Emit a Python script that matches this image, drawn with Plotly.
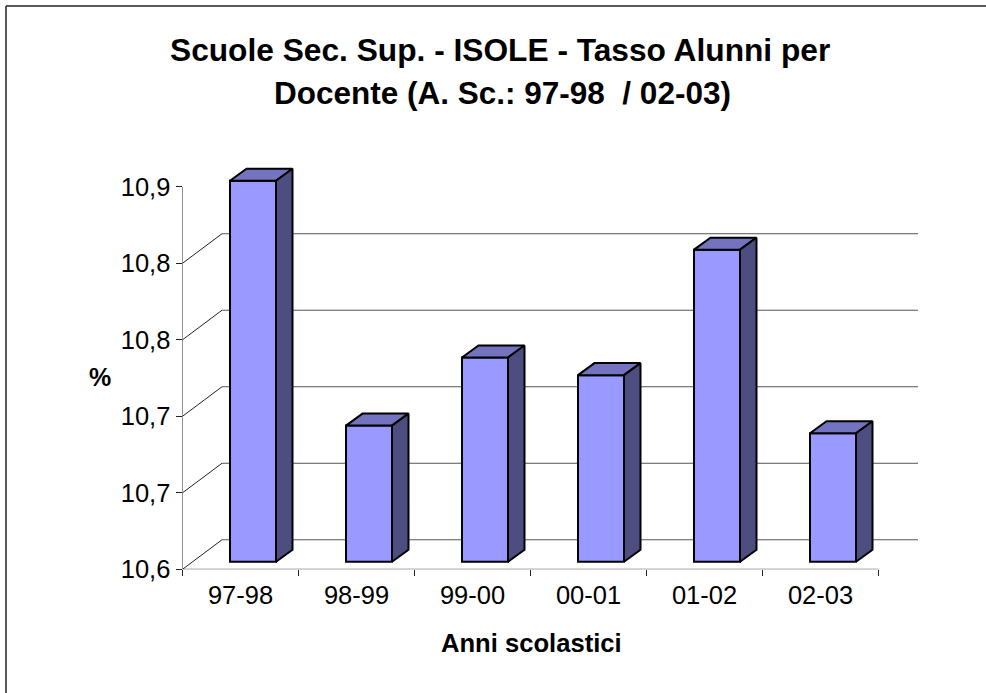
import plotly.graph_objects as go

# values
anni = ["97-98", "98-99", "99-00", "00-01", "01-02", "02-03"]
tasso = [10.849, 10.689, 10.7335, 10.722, 10.804, 10.684]
y_ticks = [10.60, 10.65, 10.70, 10.75, 10.80, 10.85]
y_labels = ["10,6", "10,7", "10,7", "10,8", "10,8", "10,9"]

W, H = 986, 693
# plot area in pixels (left edge = y axis, bottom edge = x axis)
left, right, top, bottom = 182.5, 918, 150, 568.5
cat_px = 116.0
val_px = 76.4 / 0.05

# 3d offsets, converted to axis units
wall_dx = 39.5 / cat_px
wall_dy = 29.5 / val_px
depth_dx = 16.5 / cat_px
depth_dy = 12.0 / val_px
base_dy = 7.5 / val_px
bar_w = 46.0 / cat_px
bar_shift = 12.5 / cat_px

xmax = (right - left) / cat_px
ymin = y_ticks[0]
ymax = ymin + (bottom - top) / val_px

fig = go.Figure()

# front faces
fig.add_trace(go.Bar(
    x=[i + 0.5 + bar_shift for i in range(len(anni))],
    y=[v - ymin for v in tasso],
    base=ymin + base_dy,
    width=bar_w,
    marker=dict(color="#9999FF", line=dict(color="black", width=2)),
    hoverinfo="skip",
))

# top and side faces
for i, v in enumerate(tasso):
    x0 = i + 0.5 + bar_shift - bar_w / 2
    x1 = x0 + bar_w
    y0 = ymin + base_dy
    yt = v + base_dy
    fig.add_trace(go.Scatter(
        x=[x0, x1, x1 + depth_dx, x0 + depth_dx, x0],
        y=[yt, yt, yt + depth_dy, yt + depth_dy, yt],
        mode="lines", fill="toself", fillcolor="#7373BF",
        line=dict(color="black", width=2), hoverinfo="skip",
    ))
    fig.add_trace(go.Scatter(
        x=[x1, x1 + depth_dx, x1 + depth_dx, x1, x1],
        y=[y0, y0 + depth_dy, yt + depth_dy, yt, y0],
        mode="lines", fill="toself", fillcolor="#4D4D80",
        line=dict(color="black", width=2), hoverinfo="skip",
    ))

# axis lines
fig.add_trace(go.Scatter(x=[0, 0], y=[ymin, y_ticks[-1]], mode="lines",
                         line=dict(color="#222222", width=1), hoverinfo="skip"))
fig.add_trace(go.Scatter(x=[0, len(anni)], y=[ymin, ymin], mode="lines",
                         line=dict(color="#222222", width=1), hoverinfo="skip"))

# back wall gridlines and the diagonals on the side wall
shapes = []
for t in y_ticks[:-1]:
    shapes.append(dict(type="line", layer="below", xref="x", yref="y",
                       x0=wall_dx, x1=xmax, y0=t + wall_dy, y1=t + wall_dy,
                       line=dict(color="#555555", width=1)))
    shapes.append(dict(type="line", layer="below", xref="x", yref="y",
                       x0=0, x1=wall_dx, y0=t, y1=t + wall_dy,
                       line=dict(color="#222222", width=1)))

# chart border: only the top and left sides show, they run off the picture
shapes.append(dict(type="line", xref="paper", yref="paper",
                   x0=6 / W, x1=1, y0=1 - 6 / H, y1=1 - 6 / H,
                   line=dict(color="#222222", width=1.5)))
shapes.append(dict(type="line", xref="paper", yref="paper",
                   x0=6 / W, x1=6 / W, y0=0, y1=1 - 6 / H,
                   line=dict(color="#222222", width=1.5)))

def text(s, px, py, size, angle=0):
    return dict(text=s, x=px / W, y=1 - py / H, xref="paper", yref="paper",
                showarrow=False, xanchor="center", yanchor="middle",
                textangle=angle, font=dict(size=size, color="black"))

fig.update_layout(
    width=W, height=708,
    margin=dict(l=0, r=0, t=0, b=0),
    autosize=False,
    showlegend=False,
    paper_bgcolor="white",
    plot_bgcolor="white",
    font=dict(family="Liberation Sans", color="black"),
    shapes=shapes,
    annotations=[
        text("<b>Scuole Sec. Sup. - ISOLE - Tasso Alunni per</b>", 500, 50, 31.7),
        text("<b>Docente (A. Sc.: 97-98 \u00a0/ 02-03)</b>", 502, 93, 31.5),
        text("<b>%</b>", 100, 376, 25),
        text("<b>Anni scolastici</b>", 531, 642, 25.6),
    ],
    xaxis=dict(
        domain=[left / W, right / W], range=[0, xmax],
        tickmode="array",
        tickvals=[i + 0.5 for i in range(len(anni))],
        ticktext=anni, ticks="", showgrid=False, zeroline=False,
        tickfont=dict(size=25.5),
        ticklabelstandoff=8,
        minor=dict(tickmode="array", tickvals=list(range(len(anni) + 1)),
                   ticks="outside", ticklen=6, tickcolor="#222222", showgrid=False),
    ),
    yaxis=dict(
        domain=[1 - bottom / H, 1 - top / H], range=[ymin, ymax],
        tickmode="array", tickvals=y_ticks, ticktext=y_labels,
        ticks="outside", ticklen=6, tickcolor="#222222",
        showgrid=False, zeroline=False,
        tickfont=dict(size=25.5),
    ),
)

# the browser's default body margin would push the figure off by 8 px
fig.write_html("out.html", config={"displayModeBar": False},
               post_script="document.body.style.margin = '0';")
